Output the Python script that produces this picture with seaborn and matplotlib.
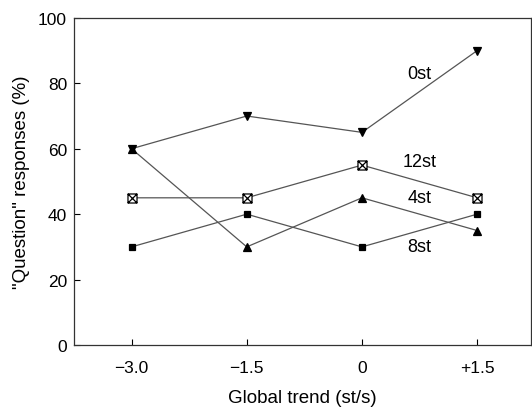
#Question responses vs global trend line chart
import pandas as pd
import seaborn as sb
import matplotlib.pyplot as plt
from matplotlib.path import Path

#data
Trend = [-3.0, -1.5, 0, 1.5]
Trend_labels = ['\u22123.0', '\u22121.5', '0', '+1.5']
Resp_0st = [60, 70, 65, 90]
Resp_12st = [45, 45, 55, 45]
Resp_4st = [60, 30, 45, 35]
Resp_8st = [30, 40, 30, 40]
Series_names = ['0st', '12st', '4st', '8st']
Label_y = [83, 56, 45, 30]

sb.set_style('ticks')
plt.rcParams['font.family'] = ['Liberation Sans', 'DejaVu Sans']
plt.rcParams['text.color'] = 'black'
plt.rcParams['axes.labelcolor'] = 'black'
plt.rcParams['xtick.color'] = 'black'
plt.rcParams['ytick.color'] = 'black'

#square with a cross in it for the 12st marker
boxx = Path([(-1, -1), (1, -1), (1, 1), (-1, 1), (-1, -1), (-1, -1), (1, 1), (-1, 1), (1, -1)],
            [Path.MOVETO, Path.LINETO, Path.LINETO, Path.LINETO, Path.CLOSEPOLY,
             Path.MOVETO, Path.LINETO, Path.MOVETO, Path.LINETO])

Data = pd.DataFrame({'Trend': Trend * 4,
                     'Resp': Resp_0st + Resp_12st + Resp_4st + Resp_8st,
                     'Series': [s for s in Series_names for _ in Trend]})

Markers = {'0st': 'v', '12st': boxx, '4st': '^', '8st': 's'}
Sizes = {'0st': 5.5, '12st': 6.5, '4st': 5.5, '8st': 4}
Faces = {'0st': 'black', '12st': 'white', '4st': 'black', '8st': 'black'}

fig, ax = plt.subplots(figsize=(5.32, 4.10), dpi=100)
for name in Series_names:
    sub = Data[Data['Series'] == name]
    sb.lineplot(data=sub, x='Trend', y='Resp', ax=ax, color='#555555', linewidth=0.9,
                marker=Markers[name], markersize=Sizes[name], markerfacecolor=Faces[name],
                markeredgecolor='black', markeredgewidth=0.9, zorder=3)

for name, yv in zip(Series_names, Label_y):
    ax.text(0.75, yv, name, fontsize=13, ha='center', va='center')

ax.set_xlim(-3.75, 2.2)
ax.set_ylim(0, 100)
ax.set_xticks(Trend)
ax.set_xticklabels(Trend_labels)
ax.set_yticks([0, 20, 40, 60, 80, 100])
ax.tick_params(direction='in', labelsize=12.5, length=4, width=0.8)
ax.tick_params(axis='x', pad=11)
ax.tick_params(axis='y', pad=5)
ax.set_xlabel('Global trend (st/s)', fontsize=13.5, labelpad=10)
ax.set_ylabel('"Question" responses (%)', fontsize=13.5, labelpad=6)
for sp in ax.spines.values():
    sp.set_visible(True)
    sp.set_linewidth(0.9)
    sp.set_color('#333333')

fig.subplots_adjust(left=0.139, right=0.998, top=0.954, bottom=0.156)
fig.savefig('out.png')
